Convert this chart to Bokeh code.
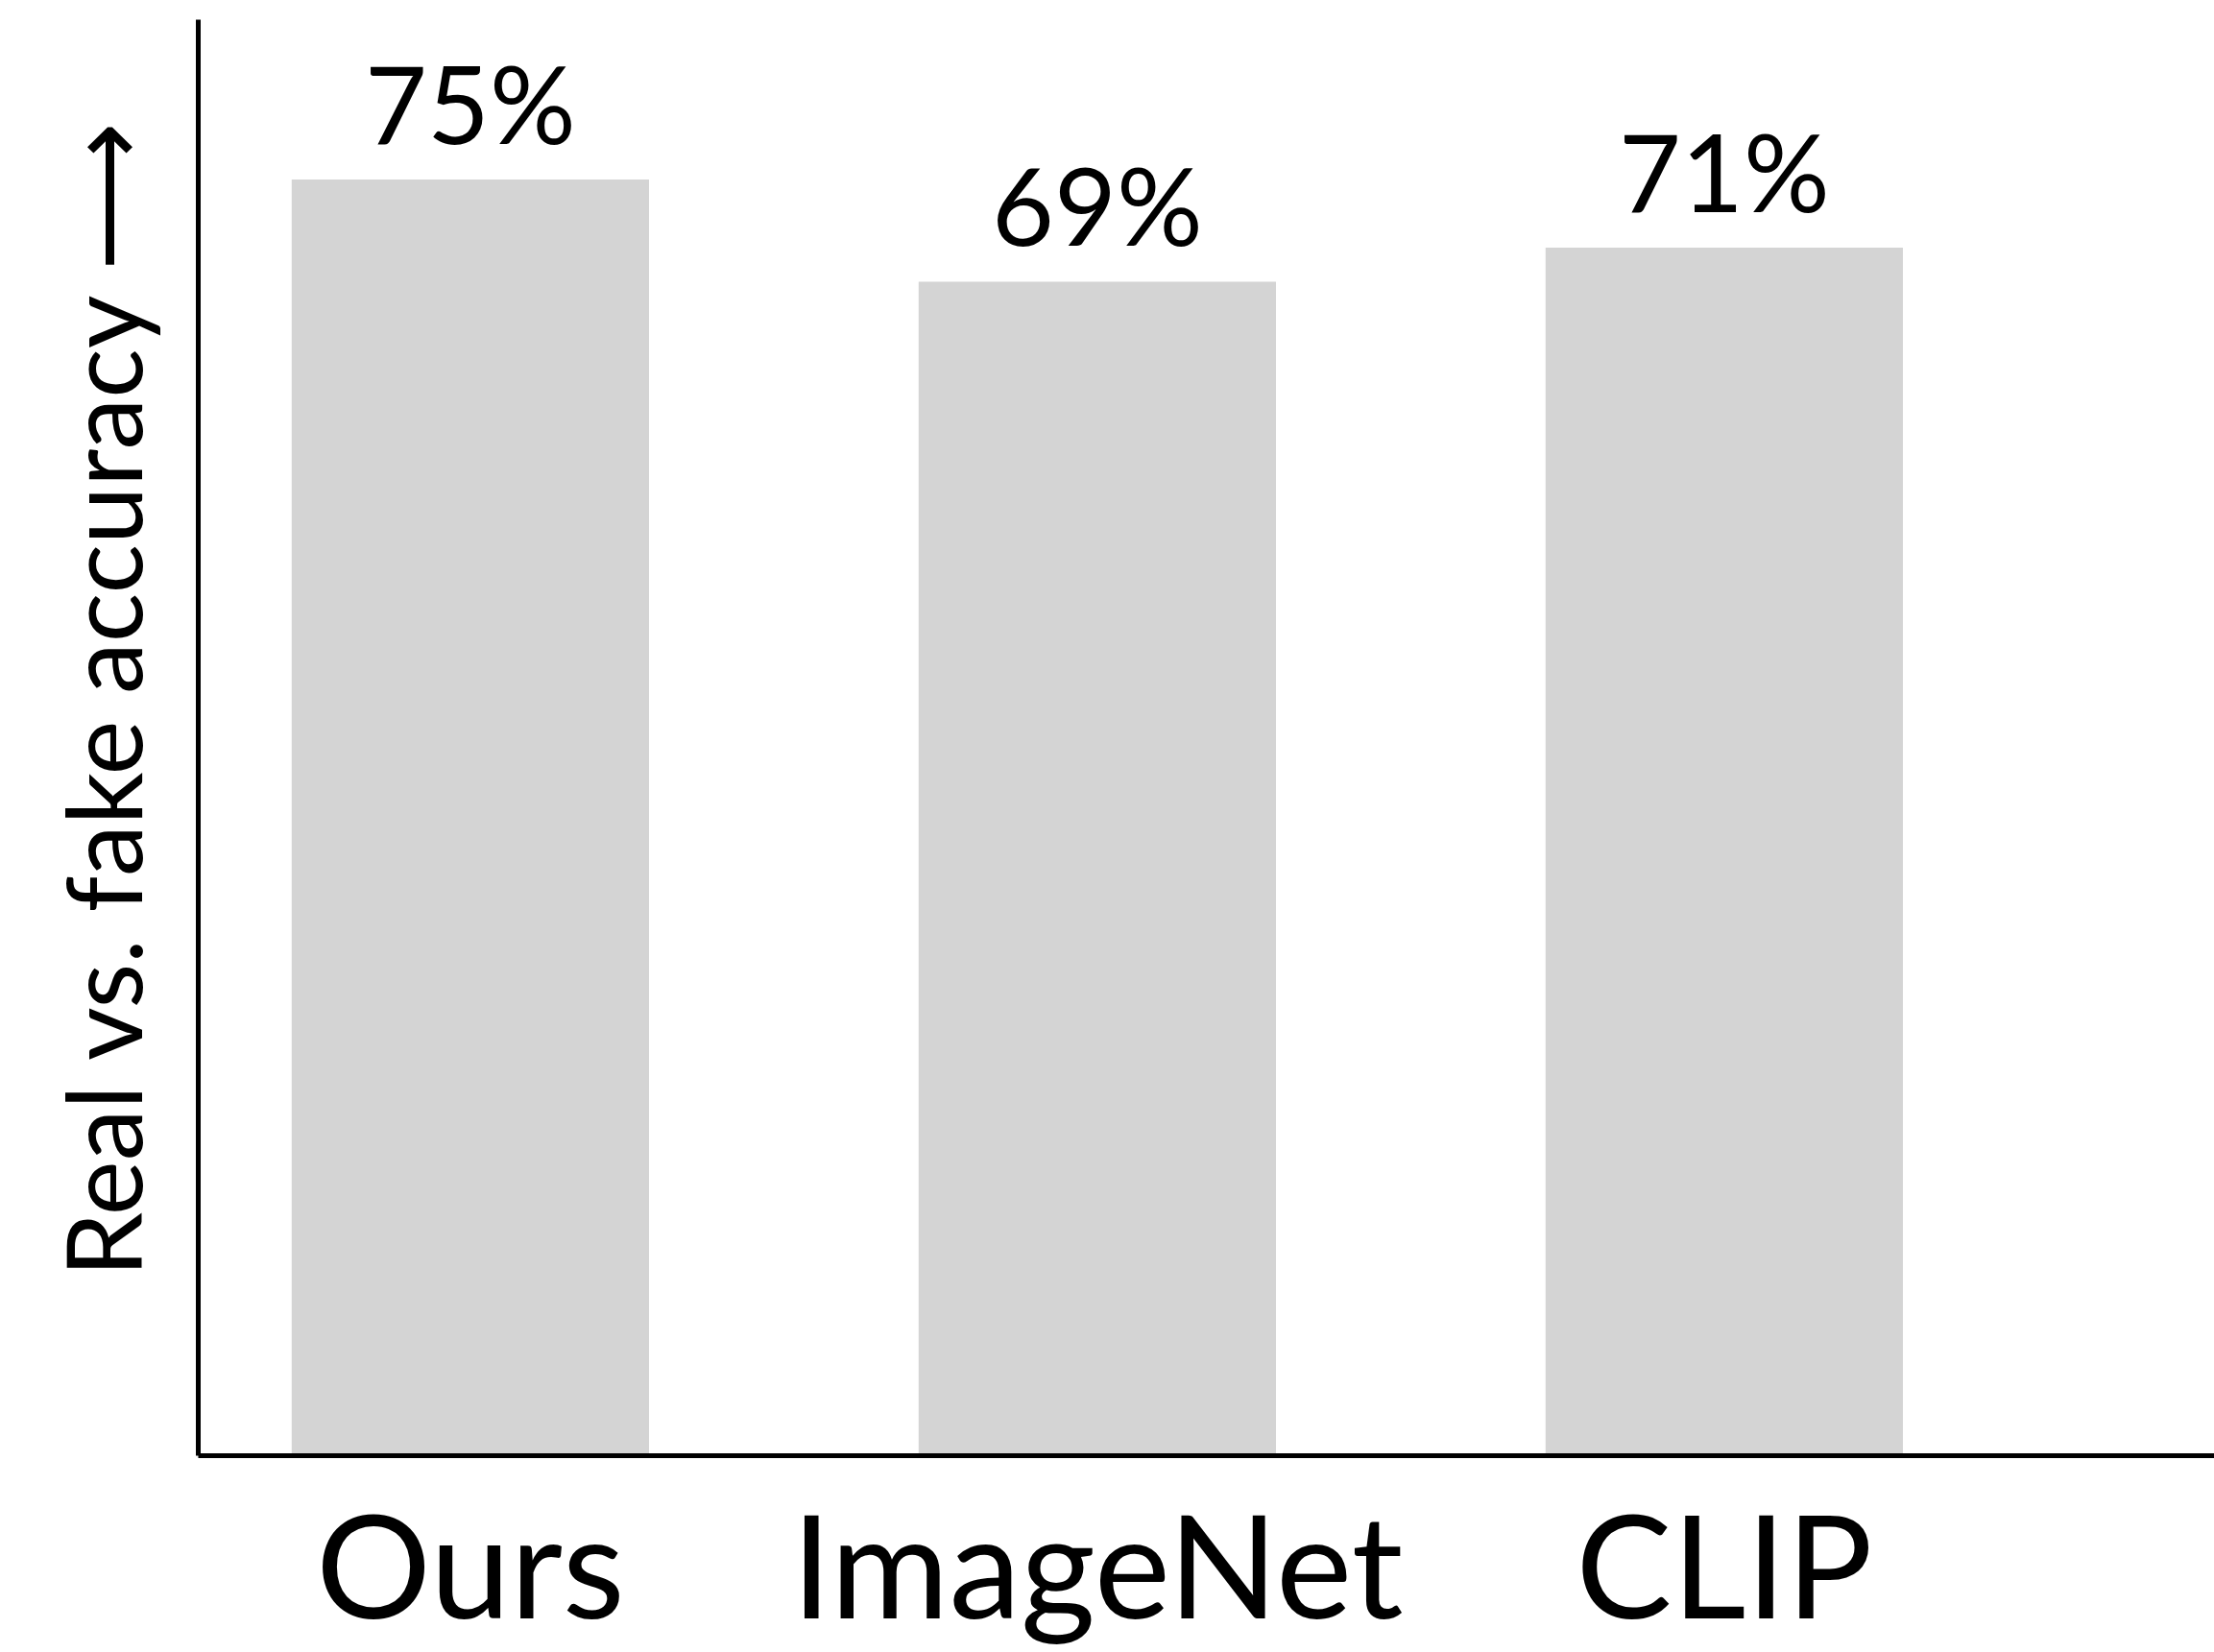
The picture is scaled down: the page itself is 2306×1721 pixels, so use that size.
from bokeh.plotting import figure
from bokeh.models import Range1d, FixedTicker, ColumnDataSource, Title
from bokeh.core.properties import value
from bokeh.embed import file_html
from bokeh.resources import INLINE

categories = ["Ours", "ImageNet", "CLIP"]
accuracy = [75, 69, 71]
value_labels = ["75%", "69%", "71%"]
y_title = "Real vs. fake accuracy \u27f6"

FONT = "Lato"
idx = list(range(len(categories)))
src = ColumnDataSource(dict(x=idx, top=accuracy, lab=value_labels))

p = figure(width=2306, height=1721, output_backend="svg", toolbar_location=None,
           x_range=Range1d(-0.434, 2.782), y_range=Range1d(0, 84.4),
           min_border_left=206, min_border_right=0, min_border_top=20,
           min_border_bottom=205)
p.outline_line_color = None
p.xgrid.visible = False
p.ygrid.visible = False
p.background_fill_color = "white"
p.border_fill_color = "white"

p.vbar(x="x", top="top", width=0.57, bottom=0, source=src,
       fill_color="#d4d4d4", line_color=None)

p.text(x="x", y="top", text="lab", source=src, text_align="center",
       text_baseline="alphabetic", y_offset=-81, text_font=value(FONT),
       text_font_size="112px", text_color="black")

xa = p.xaxis[0]
xa.ticker = FixedTicker(ticks=idx)
xa.major_label_overrides = {i: c for i, c in zip(idx, categories)}
xa.major_label_text_font = FONT
xa.major_label_text_font_size = "150px"
xa.major_label_text_color = "black"
xa.major_label_standoff = 15
xa.major_tick_line_color = None
xa.minor_tick_line_color = None
xa.axis_line_width = 5
xa.axis_line_color = "black"

ya = p.yaxis[0]
ya.ticker = FixedTicker(ticks=[])
ya.major_tick_line_color = None
ya.minor_tick_line_color = None
ya.major_tick_out = 0
ya.major_label_standoff = 0
ya.major_label_text_font_size = "0px"
ya.axis_line_width = 5
ya.axis_line_color = "black"

title = Title(text=y_title, align="left", offset=186, standoff=72,
              text_font=FONT, text_font_size="108px", text_font_style="normal",
              text_color="black")
p.add_layout(title, "left")

open("out.html", "w").write(file_html(p, INLINE))
